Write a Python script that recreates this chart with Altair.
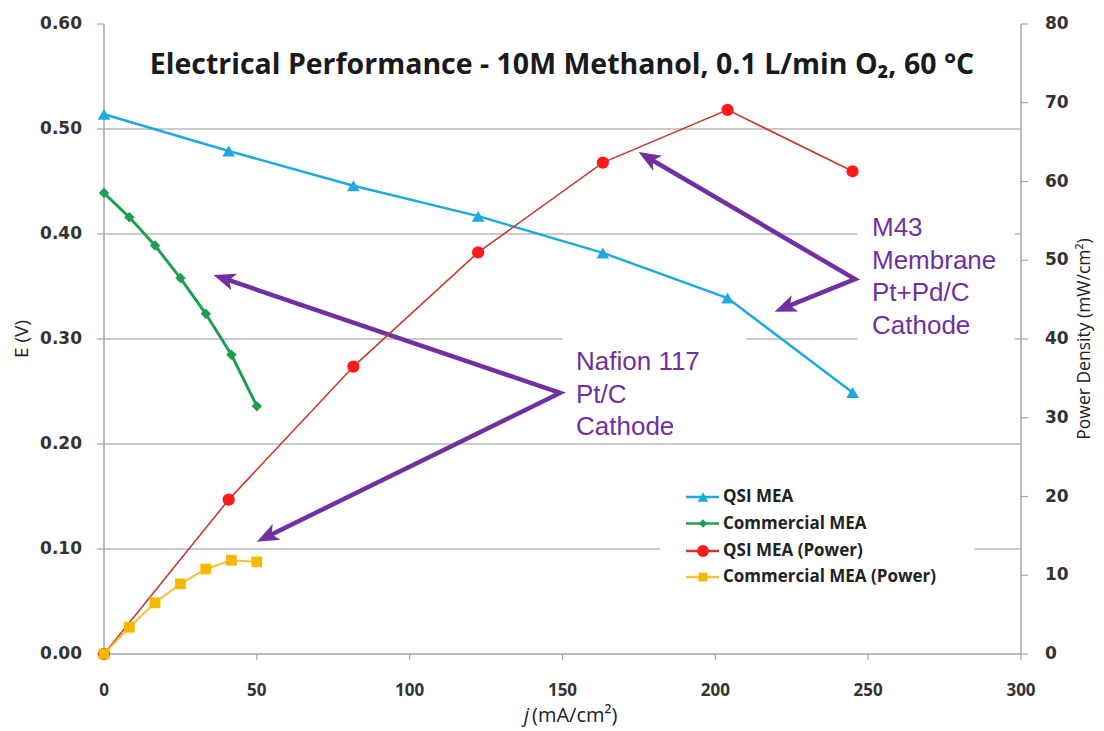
import math
import altair as alt
import pandas as pd

# ---------------- data ----------------
qsi_j = [0, 40.8, 81.6, 122.4, 163.2, 204.0, 244.9]
qsi_E = [0.514, 0.479, 0.446, 0.417, 0.382, 0.339, 0.249]
qsi_P = [0, 19.6, 36.5, 51.0, 62.4, 69.1, 61.3]
com_j = [0, 8.3, 16.7, 25.0, 33.3, 41.7, 50.0]
com_E = [0.439, 0.416, 0.389, 0.358, 0.324, 0.285, 0.236]
com_P = [0, 3.4, 6.5, 8.9, 10.8, 11.9, 11.7]

x_ticks = [0, 50, 100, 150, 200, 250, 300]
E_ticks = [0.0, 0.1, 0.2, 0.3, 0.4, 0.5, 0.6]
P_ticks = [0, 10, 20, 30, 40, 50, 60, 70, 80]
grid_E = [0.1, 0.2, 0.3, 0.4, 0.5]

series_names = ["QSI MEA", "Commercial MEA", "QSI MEA (Power)", "Commercial MEA (Power)"]
series_colors = ["#1fa9dd", "#1e9e50", "#ff1a1a", "#f5b800"]
line_colors = ["#1fa9dd", "#1e9e50", "#c8392b", "#f3c13a"]
series_shapes = ["triangle-up", "diamond", "circle", "square"]
series_sizes = [160, 110, 150, 115]
legend_sizes = [120, 75, 140, 80]

title_text = "Electrical Performance - 10M Methanol, 0.1 L/min O\u2082, 60 \u00b0C"
x_title = ["j", "(mA/cm\u00b2)"]
y_title = "E (V)"
y2_title = "Power Density (mW/cm\u00b2)"
nafion_lines = ["Nafion 117", "Pt/C", "Cathode"]
m43_lines = ["M43", "Membrane", "Pt+Pd/C", "Cathode"]

nafion_apex = (149.2, 0.2486)
nafion_heads = [(35.8, 0.361), (50.0, 0.107)]
m43_apex = (245.7, 0.357)
m43_heads = [(174.9, 0.478), (219.4, 0.326)]

# ---------------- layout ----------------
W, H = 917, 630
XMAX, EMAX, PMAX = 300, 0.6, 80
sx = W / XMAX
sy = H / EMAX
PURPLE = "#7030a0"
GRAY = "#a6a6a6"
LABEL = "#333333"


def dj(px):
    return px / sx


def dE(py):
    return (H - py) / sy


# ---------------- frames ----------------
qsi_df = pd.DataFrame({"j": qsi_j, "E": qsi_E})
com_df = pd.DataFrame({"j": com_j, "E": com_E})
qsiP_df = pd.DataFrame({"j": qsi_j, "P": qsi_P})
comP_df = pd.DataFrame({"j": com_j, "P": com_P})
grid_df = pd.DataFrame({"E": grid_E, "j": [0] * len(grid_E), "j2": [XMAX] * len(grid_E)})
Et_df = pd.DataFrame({"E": E_ticks, "lab": [f"{v:.2f}" for v in E_ticks]})
Pt_df = pd.DataFrame({"P": P_ticks, "lab": [str(v) for v in P_ticks]})
xt_df = pd.DataFrame({"j": x_ticks, "lab": [str(v) for v in x_ticks]})
one_df = pd.DataFrame({"k": [0]})

line_rows, head_rows = [], []
for g, (apex, heads) in enumerate([(nafion_apex, nafion_heads), (m43_apex, m43_heads)]):
    pts = []
    for k, (hj, hE) in enumerate(heads):
        dx = (hj - apex[0]) * sx
        dy = -(hE - apex[1]) * sy
        L = math.hypot(dx, dy)
        ux, uy = dx / L, dy / L
        ang = math.degrees(math.atan2(dx, -dy)) % 360
        head_rows.append({"j": hj, "E": hE, "ang": ang})
        back = 14
        pts.append((hj - ux * back / sx, hE + uy * back / sy))
    seq = [pts[0], apex, pts[1]]
    for o, (pj, pE) in enumerate(seq):
        line_rows.append({"j": pj, "E": pE, "g": g, "o": o})
arrow_line_df = pd.DataFrame(line_rows)
arrow_head_df = pd.DataFrame(head_rows)

box_px = [(458, 642, 310, 418), (753, 911, 186, 320), (556, 871, 454, 568)]
box_df = pd.DataFrame({
    "j": [dj(b[0]) for b in box_px], "j2": [dj(b[1]) for b in box_px],
    "E": [dE(b[2]) for b in box_px], "E2": [dE(b[3]) for b in box_px],
})

ann_rows = []
for i, t in enumerate(nafion_lines):
    ann_rows.append({"j": dj(472), "E": dE(338 + i * 32.5), "t": t})
for i, t in enumerate(m43_lines):
    ann_rows.append({"j": dj(768), "E": dE(204 + i * 32.5), "t": t})
ann_df = pd.DataFrame(ann_rows)

leg_py = [473, 499.5, 527, 553]
leg_df = pd.DataFrame({
    "name": series_names,
    "col": series_colors,
    "lcol": line_colors,
    "shp": series_shapes,
    "sz": legend_sizes,
    "E": [dE(p) for p in leg_py],
    "j": [dj(582)] * 4,
    "j2": [dj(615)] * 4,
    "jm": [dj(599)] * 4,
    "jt": [dj(619)] * 4,
})

# ---------------- encodings ----------------
X_SCALE = alt.Scale(domain=[0, XMAX], nice=False, zero=False)
E_SCALE = alt.Scale(domain=[0, EMAX], nice=False, zero=False)
P_SCALE = alt.Scale(domain=[0, PMAX], nice=False, zero=False)


def xp(field="j"):
    return alt.X(f"{field}:Q", scale=X_SCALE, axis=None)


def yp(field="E"):
    return alt.Y(f"{field}:Q", scale=E_SCALE, axis=None)


def yP(field="P"):
    return alt.Y(f"{field}:Q", scale=P_SCALE, axis=None)


# ---------------- hand-drawn axes ----------------
dom_left = alt.Chart(one_df).mark_rule(color=GRAY, strokeWidth=1.5).encode(
    x=alt.value(0), y=alt.value(0), y2=alt.value(H))
dom_right = alt.Chart(one_df).mark_rule(color=GRAY, strokeWidth=1.5).encode(
    x=alt.value(W), y=alt.value(0), y2=alt.value(H))
dom_bottom = alt.Chart(one_df).mark_rule(color=GRAY, strokeWidth=1.5).encode(
    y=alt.value(H), x=alt.value(0), x2=alt.value(W))

E_tick_marks = alt.Chart(Et_df).mark_rule(color=GRAY, strokeWidth=1.2).encode(
    y=yp(), x=alt.value(-7), x2=alt.value(0))
E_tick_labels = alt.Chart(Et_df).mark_text(
    font="DejaVu Sans", fontWeight="bold", fontSize=17, color=LABEL,
    align="right", baseline="middle").encode(y=yp(), x=alt.value(-22), text="lab:N")
x_tick_marks = alt.Chart(xt_df).mark_rule(color=GRAY, strokeWidth=1.2).encode(
    x=xp(), y=alt.value(H), y2=alt.value(H + 6))
x_tick_labels = alt.Chart(xt_df).mark_text(
    font="Open Sans", fontWeight="bold", fontSize=17, color=LABEL,
    align="center", baseline="middle").encode(x=xp(), y=alt.value(H + 37), text="lab:N")
P_tick_marks = alt.Chart(Pt_df).mark_rule(color=GRAY, strokeWidth=1.2).encode(
    y=yP(), x=alt.value(W), x2=alt.value(W + 7))
P_tick_labels = alt.Chart(Pt_df).mark_text(
    font="DejaVu Sans", fontWeight="bold", fontSize=17, color=LABEL,
    align="left", baseline="middle").encode(y=yP(), x=alt.value(W + 24), text="lab:N")

y_title_mark = alt.Chart(one_df).mark_text(
    font="Open Sans", fontSize=19, color="#222222", angle=270,
    align="center", baseline="middle", text=y_title).encode(x=alt.value(-82), y=alt.value(H / 2))
y2_title_mark = alt.Chart(one_df).mark_text(
    font="Open Sans", fontSize=17.5, color="#222222", angle=270,
    align="center", baseline="middle", text=y2_title).encode(x=alt.value(W + 64), y=alt.value(H / 2))
xt_j = alt.Chart(one_df).mark_text(
    font="Open Sans", fontSize=20, fontStyle="italic", color="#222222",
    align="right", baseline="middle", text=x_title[0]).encode(x=alt.value(425), y=alt.value(692))
xt_rest = alt.Chart(one_df).mark_text(
    font="Open Sans", fontSize=20, color="#222222",
    align="left", baseline="middle", text=x_title[1]).encode(x=alt.value(428), y=alt.value(692))

# ---------------- layers (E scale) ----------------
grid = alt.Chart(grid_df).mark_rule(color="#b9b9b9", strokeWidth=1.5).encode(
    y=yp(), x=xp(), x2="j2:Q")
boxes = alt.Chart(box_df).mark_rect(color="white").encode(
    x=xp(), x2="j2:Q", y=yp(), y2="E2:Q")

qsi_line = alt.Chart(qsi_df).mark_line(color=line_colors[0], strokeWidth=2.5).encode(x=xp(), y=yp())
qsi_pts = alt.Chart(qsi_df).mark_point(shape=series_shapes[0], filled=True, opacity=1,
                                       size=series_sizes[0], color=series_colors[0]).encode(x=xp(), y=yp())
com_line = alt.Chart(com_df).mark_line(color=line_colors[1], strokeWidth=3).encode(x=xp(), y=yp())
com_pts = alt.Chart(com_df).mark_point(shape=series_shapes[1], filled=True, opacity=1,
                                       size=series_sizes[1], color=series_colors[1]).encode(x=xp(), y=yp())

arrow_lines = alt.Chart(arrow_line_df).mark_line(color=PURPLE, strokeWidth=4.5, strokeJoin="miter",
                                                 strokeMiterLimit=20).encode(
    x=xp(), y=yp(), detail="g:N", order="o:Q")
arrow_heads = alt.Chart(arrow_head_df).mark_point(
    shape="M0,0 L0.8,2 L0,1.5 L-0.8,2 Z", size=484, filled=True, opacity=1, color=PURPLE,
    strokeWidth=0).encode(x=xp(), y=yp(), angle=alt.Angle("ang:Q", scale=None))

ann = alt.Chart(ann_df).mark_text(font="Liberation Sans", fontSize=26, color=PURPLE,
                                  align="left", baseline="middle").encode(
    x=xp(), y=yp(), text="t:N")

title = alt.Chart(one_df).mark_text(
    font="Open Sans", fontSize=28.5, fontWeight="bold", color="#1a1a1a",
    align="center", baseline="middle", text=title_text).encode(x=alt.value(458), y=alt.value(41))

leg_lines = alt.Chart(leg_df).mark_rule(strokeWidth=2.5).encode(
    x=xp(), x2="j2:Q", y=yp(), color=alt.Color("lcol:N", scale=None))
leg_pts = alt.Chart(leg_df).mark_point(filled=True, opacity=1).encode(
    x=xp("jm"), y=yp(), color=alt.Color("col:N", scale=None),
    shape=alt.Shape("shp:N", scale=None), size=alt.Size("sz:Q", scale=None))
leg_txt = alt.Chart(leg_df).mark_text(font="Open Sans", fontSize=17, fontWeight="bold",
                                      color="#222222", align="left", baseline="middle").encode(
    x=xp("jt"), y=yp(), text="name:N")

left = alt.layer(grid, boxes, dom_left, dom_right, dom_bottom, E_tick_marks, E_tick_labels,
                 x_tick_marks, x_tick_labels, y_title_mark, y2_title_mark, xt_j, xt_rest,
                 qsi_line, com_line, arrow_lines, arrow_heads, qsi_pts, com_pts,
                 ann, title, leg_lines, leg_pts, leg_txt)

# ---------------- layers (power scale) ----------------
qsiP_line = alt.Chart(qsiP_df).mark_line(color=line_colors[2], strokeWidth=1.6).encode(x=xp(), y=yP())
qsiP_pts = alt.Chart(qsiP_df).mark_point(shape=series_shapes[2], filled=True, opacity=1,
                                         size=series_sizes[2], color=series_colors[2]).encode(x=xp(), y=yP())
comP_line = alt.Chart(comP_df).mark_line(color=line_colors[3], strokeWidth=2).encode(x=xp(), y=yP())
comP_pts = alt.Chart(comP_df).mark_point(shape=series_shapes[3], filled=True, opacity=1,
                                         size=series_sizes[3], color=series_colors[3]).encode(x=xp(), y=yP())
right = alt.layer(P_tick_marks, P_tick_labels, qsiP_line, qsiP_pts, comP_line, comP_pts)

chart = alt.layer(left, right).resolve_scale(y="independent").properties(
    width=W, height=H,
    background="white",
    autosize=alt.AutoSizeParams(type="none"),
    padding={"left": 96, "top": 16, "right": 75, "bottom": 75},
).configure_view(strokeWidth=0)

chart.save("out.html", embed_options={"renderer": "svg", "actions": False})
